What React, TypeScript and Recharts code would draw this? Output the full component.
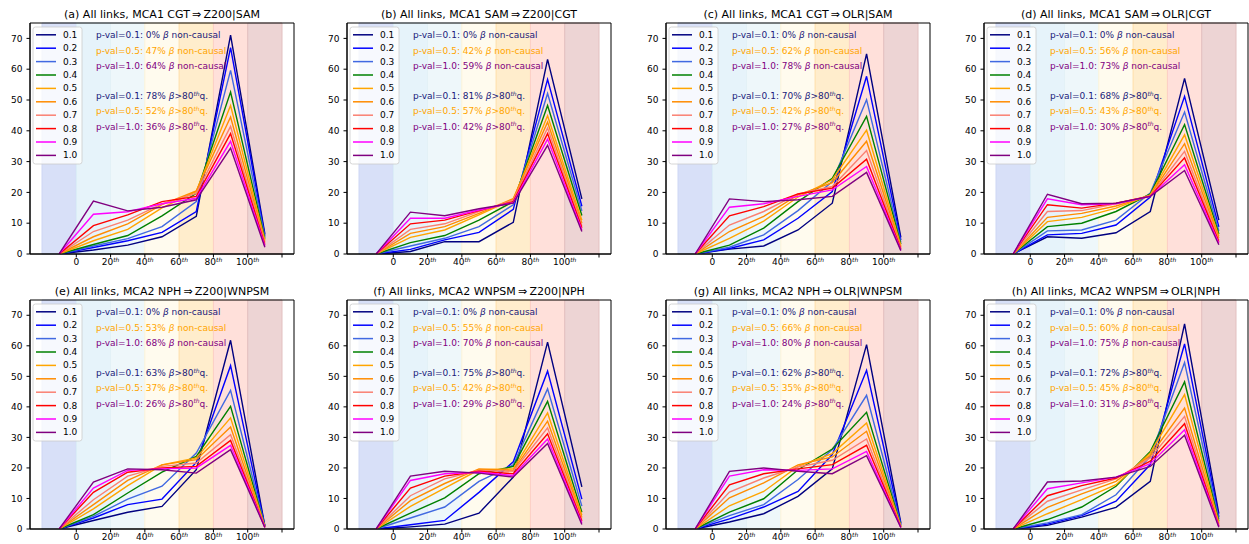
import React from 'react';
import { LineChart, Line, XAxis, YAxis, ReferenceArea } from 'recharts';

// x positions of the bins (first one is the zero anchor left of "0")
const X_POS = [-10, 10, 30, 50, 70, 90, 110];
const P_LABELS = ['0.1', '0.2', '0.3', '0.4', '0.5', '0.6', '0.7', '0.8', '0.9', '1.0'];
const LINE_COLORS = ['#000080', '#0000ff', '#4169e1', '#008000', '#ffa500', '#ff8c00', '#fa8072', '#ff0000', '#ff00ff', '#800080'];

const X_TICKS = [0, 20, 40, 60, 80, 100, 120];
const X_TICK_LABELS = ['0', '20', '40', '60', '80', '100', ''];
const X_TICK_SUP = ['', 'th', 'th', 'th', 'th', 'th', ''];
const Y_TICKS = [0, 10, 20, 30, 40, 50, 60, 70];

const BAND_EDGES = [-20, 0, 20, 40, 60, 80, 100, 120];
const BAND_COLORS = ['#d8e0f8', '#e6f3fa', '#eef7fa', '#fffbee', '#ffedcc', '#ffe0da', '#edd4d4'];
const BAND_LINE_COLORS = ['#cdd6f4', '#d9edf7', '#e3f1f6', '#fff4d8', '#ffe0ab', '#fccfc6', '#e2c0c0'];

const TITLES = [
  '(a) All links, MCA1 CGT\u2009\u21d2\u2009Z200|SAM',
  '(b) All links, MCA1 SAM\u2009\u21d2\u2009Z200|CGT',
  '(c) All links, MCA1 CGT\u2009\u21d2\u2009OLR|SAM',
  '(d) All links, MCA1 SAM\u2009\u21d2\u2009OLR|CGT',
  '(e) All links, MCA2 NPH\u2009\u21d2\u2009Z200|WNPSM',
  '(f) All links, MCA2 WNPSM\u2009\u21d2\u2009Z200|NPH',
  '(g) All links, MCA2 NPH\u2009\u21d2\u2009OLR|WNPSM',
  '(h) All links, MCA2 WNPSM\u2009\u21d2\u2009OLR|NPH',
];

// % non-causal for p-val = 0.1, 0.5, 1.0
const NON_CAUSAL = [
  [0, 47, 64], [0, 42, 59], [0, 62, 78], [0, 56, 73],
  [0, 53, 68], [0, 55, 70], [0, 66, 80], [0, 60, 75],
];
// % beta above 80th quantile for p-val = 0.1, 0.5, 1.0
const ABOVE_80 = [
  [78, 52, 36], [81, 57, 42], [70, 42, 27], [68, 43, 30],
  [63, 37, 26], [75, 42, 29], [62, 35, 24], [72, 45, 31],
];
const NOTE_PVALS = ['0.1', '0.5', '1.0'];
const NOTE_COLORS = ['#1a1a7a', '#ffa500', '#800080'];

const panelA = [
  [0, 1.3, 2.9, 5.6, 12.2, 71.1, 6.5],
  [0, 2.1, 4.3, 7.0, 13.8, 67.0, 6.0],
  [0, 2.6, 5.0, 8.9, 17.0, 59.6, 5.5],
  [0, 3.1, 6.0, 12.4, 19.7, 52.6, 5.0],
  [0, 4.3, 8.0, 15.0, 20.3, 48.2, 4.5],
  [0, 5.6, 9.8, 16.0, 20.5, 44.5, 4.0],
  [0, 7.3, 11.0, 16.3, 19.7, 41.4, 3.5],
  [0, 9.2, 12.7, 17.0, 18.7, 39.1, 3.0],
  [0, 12.9, 13.7, 16.3, 18.1, 36.6, 2.6],
  [0, 17.2, 14.0, 15.2, 17.6, 34.4, 2.2],
];
const panelB = [
  [0, 0.8, 4.0, 4.0, 10.3, 63.2, 17.9],
  [0, 1.5, 4.6, 7.0, 14.5, 56.7, 15.5],
  [0, 2.6, 5.1, 8.9, 16.0, 52.1, 14.0],
  [0, 3.7, 6.0, 11.0, 17.0, 48.2, 12.5],
  [0, 5.4, 7.8, 12.7, 17.8, 44.9, 11.0],
  [0, 6.7, 8.9, 13.2, 18.0, 42.8, 10.0],
  [0, 8.0, 9.8, 13.8, 17.5, 40.9, 9.2],
  [0, 9.8, 11.0, 14.1, 17.0, 39.1, 8.5],
  [0, 11.6, 11.6, 14.3, 16.7, 37.3, 7.8],
  [0, 13.6, 12.4, 14.7, 16.5, 35.3, 7.3],
];
const panelC = [
  [0, 1.6, 2.6, 7.8, 16.5, 65.0, 5.4],
  [0, 1.8, 4.6, 11.6, 20.3, 57.7, 4.5],
  [0, 2.2, 6.2, 14.1, 23.5, 50.1, 3.8],
  [0, 2.9, 8.4, 17.0, 24.6, 44.7, 3.2],
  [0, 5.1, 10.7, 18.5, 24.1, 40.2, 2.7],
  [0, 7.3, 12.2, 19.2, 23.2, 36.6, 2.3],
  [0, 9.4, 13.8, 19.5, 21.9, 33.6, 1.9],
  [0, 12.4, 15.4, 19.5, 21.4, 30.8, 1.6],
  [0, 15.2, 16.3, 18.7, 20.8, 28.4, 1.3],
  [0, 17.9, 17.0, 17.6, 18.7, 26.5, 1.1],
];
const panelD = [
  [0, 5.6, 5.1, 6.9, 13.8, 57.0, 11.0],
  [0, 6.2, 6.7, 9.4, 18.5, 51.2, 8.8],
  [0, 7.5, 7.8, 11.0, 19.8, 46.1, 7.5],
  [0, 8.9, 10.0, 13.8, 19.5, 42.0, 6.5],
  [0, 10.5, 11.9, 14.9, 19.2, 38.7, 5.8],
  [0, 11.9, 13.2, 15.6, 19.0, 35.8, 5.2],
  [0, 13.8, 14.1, 16.3, 18.9, 33.3, 4.5],
  [0, 16.0, 14.9, 16.5, 18.8, 31.2, 4.0],
  [0, 17.9, 16.0, 16.3, 18.7, 29.0, 3.5],
  [0, 19.4, 16.3, 16.5, 18.7, 27.1, 3.0],
];
const panelE = [
  [0, 2.8, 5.5, 7.4, 19.4, 61.8, 1.0],
  [0, 3.6, 8.0, 9.8, 21.8, 53.5, 0.9],
  [0, 4.1, 9.8, 14.0, 24.9, 45.4, 0.9],
  [0, 4.7, 11.8, 18.6, 23.8, 40.2, 0.8],
  [0, 6.6, 14.2, 21.0, 23.3, 36.4, 0.8],
  [0, 8.0, 15.9, 21.0, 22.7, 33.4, 0.7],
  [0, 9.6, 17.3, 20.5, 21.6, 30.9, 0.7],
  [0, 12.0, 18.6, 20.0, 20.5, 29.0, 0.6],
  [0, 13.4, 19.2, 19.7, 20.0, 27.4, 0.6],
  [0, 15.4, 19.7, 19.4, 18.3, 26.0, 0.5],
];
const panelF = [
  [0, 0.7, 1.6, 5.2, 17.0, 61.2, 13.8],
  [0, 1.4, 2.8, 12.0, 22.0, 51.7, 9.8],
  [0, 3.6, 7.2, 15.6, 21.0, 45.9, 7.5],
  [0, 5.2, 10.2, 18.1, 20.5, 41.8, 5.5],
  [0, 7.4, 13.4, 19.4, 19.7, 38.0, 4.5],
  [0, 9.3, 14.9, 19.7, 19.2, 35.3, 3.8],
  [0, 10.9, 16.4, 19.2, 18.9, 33.1, 3.0],
  [0, 13.4, 17.3, 18.9, 18.1, 31.2, 2.5],
  [0, 15.9, 18.1, 18.6, 17.5, 29.5, 2.0],
  [0, 17.3, 18.9, 18.3, 17.0, 28.0, 1.5],
];
const panelG = [
  [0, 2.3, 5.0, 10.7, 19.7, 60.4, 2.0],
  [0, 3.3, 7.2, 12.3, 24.4, 52.0, 1.6],
  [0, 4.4, 8.0, 16.2, 26.0, 43.8, 1.3],
  [0, 5.5, 9.9, 19.4, 26.2, 38.2, 1.1],
  [0, 7.6, 12.3, 20.5, 24.7, 34.7, 0.9],
  [0, 10.2, 15.1, 21.0, 23.6, 32.0, 0.8],
  [0, 12.1, 16.7, 20.3, 22.5, 29.5, 0.7],
  [0, 14.5, 18.1, 19.7, 21.1, 27.4, 0.6],
  [0, 17.3, 19.4, 19.2, 19.7, 25.4, 0.5],
  [0, 18.9, 20.0, 18.9, 18.1, 24.0, 0.5],
];
const panelH = [
  [0, 1.2, 3.9, 7.1, 15.6, 67.2, 5.0],
  [0, 1.6, 4.4, 9.1, 21.1, 60.6, 4.0],
  [0, 2.0, 4.7, 11.2, 23.8, 54.5, 3.2],
  [0, 3.1, 7.2, 14.0, 25.4, 48.2, 2.5],
  [0, 5.0, 9.6, 14.5, 24.9, 44.0, 2.0],
  [0, 7.1, 11.5, 15.6, 24.1, 39.6, 1.6],
  [0, 9.1, 12.8, 16.4, 23.3, 36.9, 1.2],
  [0, 10.9, 14.2, 16.7, 22.2, 34.5, 1.0],
  [0, 13.2, 15.1, 17.0, 21.4, 32.5, 0.8],
  [0, 15.4, 15.7, 17.0, 20.5, 30.7, 0.6],
];
const PANELS = [panelA, panelB, panelC, panelD, panelE, panelF, panelG, panelH];

// layout (px)
const PLOT_LEFTS = [30, 347, 665.5, 984];
const PLOT_TOPS = [23, 300];
const PLOT_HEIGHTS = [231, 229];
const PLOT_W = 264;
const Y_AXIS_W = 30;
const X_AXIS_H = 20;
const MT = 24;
const MR = 10;
const FONT = 'DejaVu Sans, sans-serif';
const NOTE_ROWS = [12.3, 27.5, 42.7, 73.1, 88.3, 103.5];

const XTick = (props: any) => {
  const { x, y, payload } = props;
  const i = X_TICKS.indexOf(payload.value);
  const label = X_TICK_LABELS[i] ?? '';
  const sup = X_TICK_SUP[i] ?? '';
  return (
    <text x={x} y={y} dy="0.75em" textAnchor="middle" fontSize={9} fill="#000" fontFamily={FONT}>
      {label}
      {sup && <tspan fontSize={6} fontStyle="italic" dy={-3.5}>{sup}</tspan>}
    </text>
  );
};

function Panel({ idx }: { idx: number }) {
  const col = idx % 4;
  const row = Math.floor(idx / 4);
  const series = PANELS[idx];
  const plotH = PLOT_HEIGHTS[row];
  const data = X_POS.map((x, i) => {
    const r: any = { x };
    series.forEach((s, k) => {
      r['s' + k] = s[i];
    });
    return r;
  });
  const width = Y_AXIS_W + PLOT_W + MR;
  const height = MT + plotH + X_AXIS_H;
  const px = Y_AXIS_W; // plot left inside chart
  const noteX = px + 66;

  return (
    <div style={{ position: 'absolute', left: PLOT_LEFTS[col] - Y_AXIS_W, top: PLOT_TOPS[row] - MT, width, height }}>
      <LineChart width={width} height={height} data={data} margin={{ top: MT, right: MR, left: 0, bottom: 0 }}>
        {BAND_COLORS.map((c, b) => (
          <ReferenceArea
            key={'band' + b}
            x1={BAND_EDGES[b]}
            x2={BAND_EDGES[b + 1]}
            y1={0}
            y2={75}
            fill={c}
            fillOpacity={1}
            stroke={BAND_LINE_COLORS[b]}
            strokeWidth={1}
          />
        ))}
        <XAxis
          type="number"
          dataKey="x"
          domain={[-27, 127]}
          ticks={X_TICKS}
          interval={0}
          allowDataOverflow
          height={X_AXIS_H}
          tickSize={3.5}
          tickMargin={1}
          tick={<XTick />}
          axisLine={{ stroke: '#000' }}
          tickLine={{ stroke: '#000' }}
        />
        <YAxis
          type="number"
          domain={[0, 75]}
          ticks={Y_TICKS}
          interval={0}
          allowDataOverflow
          width={Y_AXIS_W}
          tickSize={3.5}
          tickMargin={4}
          tick={{ fontSize: 9, fill: '#000', fontFamily: FONT }}
          axisLine={{ stroke: '#000' }}
          tickLine={{ stroke: '#000' }}
        />
        {series.map((_, k) => (
          <Line
            key={'s' + k}
            type="linear"
            dataKey={'s' + k}
            name={P_LABELS[k]}
            stroke={LINE_COLORS[k]}
            strokeWidth={1.4}
            dot={false}
            activeDot={false}
            isAnimationActive={false}
          />
        ))}
        <ReferenceArea x1={-27} x2={127} y1={0} y2={75} fill="none" stroke="#000" strokeWidth={1} />
      </LineChart>

      {/* overlay: title, notes and legend drawn above the plot layers */}
      <svg width={width} height={height} style={{ position: 'absolute', left: 0, top: 0, pointerEvents: 'none', overflow: 'visible' }}>
        <text x={px + PLOT_W / 2} y={MT - 5.5} textAnchor="middle" fontSize={11} fill="#000" fontFamily={FONT}>
          {TITLES[idx]}
        </text>

        {NOTE_PVALS.map((p, j) => (
          <text key={'nc' + j} x={noteX} y={MT + NOTE_ROWS[j]} dominantBaseline="central" fontSize={9} fill={NOTE_COLORS[j]} fontFamily={FONT}>
            {`p-val=${p}: ${NON_CAUSAL[idx][j]}% `}
            <tspan fontStyle="italic">β</tspan>
            {' non-causal'}
          </text>
        ))}
        {NOTE_PVALS.map((p, j) => (
          <text key={'ab' + j} x={noteX} y={MT + NOTE_ROWS[j + 3]} dominantBaseline="central" fontSize={9} fill={NOTE_COLORS[j]} fontFamily={FONT}>
            {`p-val=${p}: ${ABOVE_80[idx][j]}% `}
            <tspan fontStyle="italic">β</tspan>
            {'>80'}
            <tspan fontSize={6} fontStyle="italic" dy={-3.5}>th</tspan>
            <tspan dy={3.5}>q.</tspan>
          </text>
        ))}

        <rect x={px + 3} y={MT + 4} width={49} height={137} rx={2.5} fill="#fff" fillOpacity={0.8} stroke="#cccccc" strokeWidth={0.8} />
        {P_LABELS.map((lbl, k) => (
          <g key={'lg' + k}>
            <line x1={px + 6} x2={px + 26} y1={MT + 11.8 + 13.4 * k} y2={MT + 11.8 + 13.4 * k} stroke={LINE_COLORS[k]} strokeWidth={1.5} />
            <text x={px + 33} y={MT + 11.8 + 13.4 * k} dominantBaseline="central" fontSize={9} fill="#000" fontFamily={FONT}>
              {lbl}
            </text>
          </g>
        ))}
      </svg>
    </div>
  );
}

export default function App() {
  return (
    <div
      style={{
        position: 'absolute',
        left: 0,
        top: 0,
        width: 1249,
        height: 544,
        overflow: 'hidden',
        background: '#fff',
        fontFamily: FONT,
      }}
    >
      {PANELS.map((_, i) => (
        <Panel key={i} idx={i} />
      ))}
    </div>
  );
}
